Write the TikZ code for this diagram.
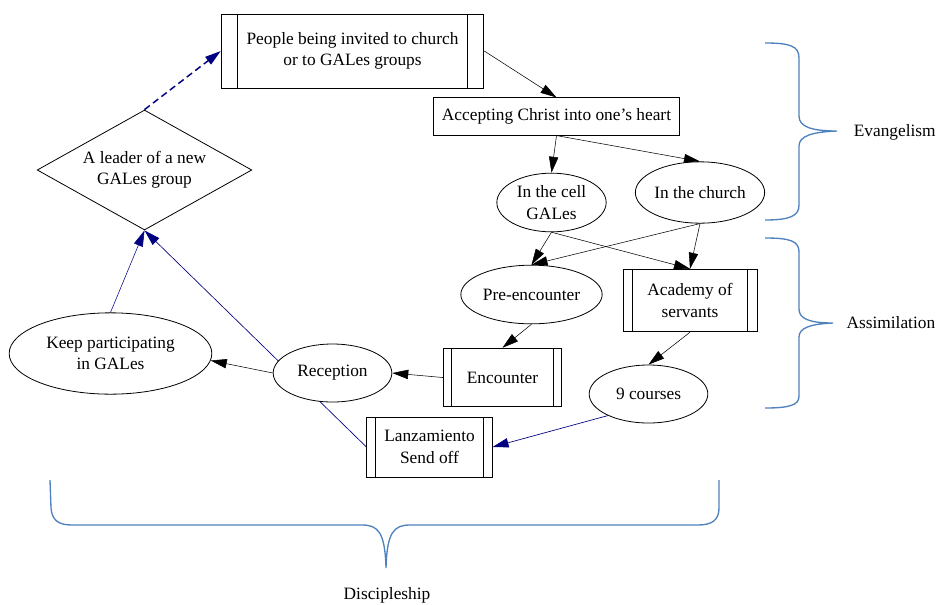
\documentclass[tikz,border=0pt]{standalone}
\usepackage{fontspec}
\setmainfont{Liberation Serif}
\usetikzlibrary{shapes.geometric,arrows.meta,backgrounds}

\definecolor{edgenavy}{RGB}{0,0,128}
\definecolor{bracecol}{RGB}{79,129,189}

\tikzset{
    box/.style={draw,fill=white,align=center,inner sep=0pt},
    sub/.style={box,path picture={
        \draw ([xshift=#1]path picture bounding box.north west) -- ([xshift=#1]path picture bounding box.south west);
        \draw ([xshift=-#1]path picture bounding box.north east) -- ([xshift=-#1]path picture bounding box.south east);}},
    oval/.style={draw,fill=white,ellipse,align=center,inner sep=0pt},
    arr/.style={-{Triangle[length=12pt,width=7pt]}},
    navarr/.style={draw=edgenavy,-{Triangle[length=12pt,width=7pt]}},
    brace/.style={draw=bracecol,line width=1pt}
}

\begin{document}
\begin{tikzpicture}[x=0.75pt,y=-0.75pt,line width=0.6pt,font=\fontsize{13}{16}\selectfont]
        \useasboundingbox (0,0) rectangle (941,604);

        \node[sub=12pt,minimum width=197pt,minimum height=55.5pt] (invite) at (352.5,51) {People being invited to church\\or to GALes groups};
        \node[box,minimum width=184pt,minimum height=28pt] (accept) at (556.5,116.5) {Accepting Christ into one's heart};
        \node[oval,minimum width=82pt,minimum height=44pt] (cell) at (551.5,202.5) {In the cell\\GALes};
        \node[oval,minimum width=96pt,minimum height=46pt] (church) at (700,192.5) {In the church};
        \node[oval,minimum width=106pt,minimum height=44pt] (pre) at (531.5,294.5) {Pre-encounter};
        \node[sub=7pt,minimum width=100.5pt,minimum height=47pt] (academy) at (690,300.5) {Academy of\\servants};
        \node[sub=6pt,minimum width=89pt,minimum height=44pt] (encounter) at (502.5,377.5) {Encounter};
        \node[oval,minimum width=89pt,minimum height=43.5pt] (courses) at (648.5,394) {9 courses};
        \node[sub=6.5pt,minimum width=94pt,minimum height=45pt] (launch) at (429.5,447) {Lanzamiento\\Send off};
        \node[oval,minimum width=89pt,minimum height=43.5pt] (reception) at (332.5,373) {Reception};
        \node[oval,minimum width=152pt,minimum height=61pt] (keep) at (110.5,353.5) {Keep participating\\in GALes};
        \node[draw,fill=white,diamond,shape aspect=1.8,align=center,inner sep=0pt,minimum width=161pt,minimum height=90pt] (leader) at (144.5,170) {A leader of a new\\GALes group};

        \begin{scope}[on background layer]
            \draw[arr] (invite.east) -- (accept.north);
            \draw[arr] (accept.south) -- (cell.north);
            \draw[arr] (accept.south) -- (church.north);
            \draw[arr] (cell.south) -- (pre.north);
            \draw[arr] (cell.south) -- (academy.north);
            \draw[arr] (church.south) -- (pre.north);
            \draw[arr] (church.south) -- (academy.north);
            \draw[arr] (pre.south) -- (encounter.north);
            \draw[arr] (academy.south) -- (courses.north);
            \draw[arr] (encounter.west) -- (reception.east);
            \draw[arr] (reception.west) -- (keep.-4);
            \draw[navarr,line width=0.5pt] (courses.208) -- (launch.east);
            \draw[navarr,line width=0.5pt] (launch.west) -- (leader.south);
            \draw[navarr] (keep.north) -- (leader.south);
            \draw[navarr,line width=1.1pt,dash pattern=on 5pt off 3pt] (leader.north) -- (invite.west);
        \end{scope}

        \draw[brace] (765,43) .. controls (790,43) and (799,46) .. (799,58) -- (799,116) .. controls (799,127) and (812,131) .. (837,131)
            .. controls (812,132) and (799,136) .. (799,146) -- (799,205) .. controls (799,216) and (790,220) .. (765,220);
        \draw[brace] (765,238) .. controls (790,238) and (799,241) .. (799,252) -- (799,309) .. controls (799,319) and (810,323) .. (833,323)
            .. controls (810,324) and (799,328) .. (799,337) -- (799,396) .. controls (799,405) and (790,408) .. (765,408);
        \draw[brace] (50,480) -- (51,508) .. controls (52,520) and (58,525) .. (72,525) -- (362,525) .. controls (378,525) and (385,532) .. (386,568)
            .. controls (387,532) and (394,525) .. (410,525) -- (698,525) .. controls (712,525) and (719,520) .. (719,508) -- (719,480);

        \node[anchor=west] (evang) at (849,132) {Evangelism};
        \node[anchor=east] (assim) at (940,323) {Assimilation};
        \node (disc) at (387,595) {Discipleship};
\end{tikzpicture}
\end{document}
